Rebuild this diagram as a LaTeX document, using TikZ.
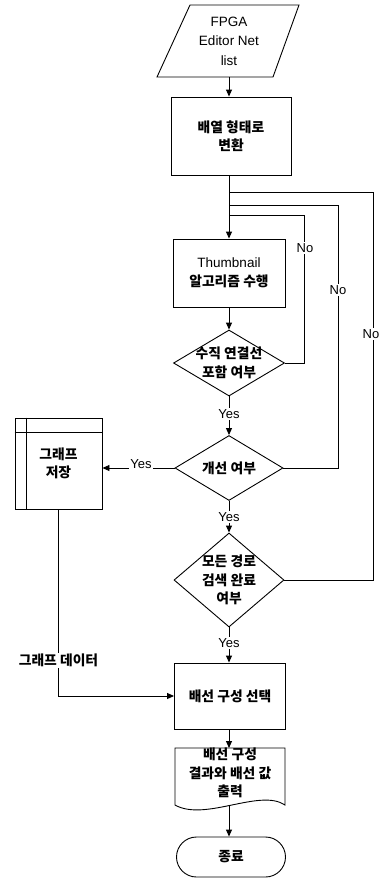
\documentclass[tikz,border=0pt]{standalone}
\usepackage{fontspec}
\setmainfont{Liberation Sans}
\newfontfamily\kr{Noto Sans CJK KR}
\usetikzlibrary{arrows.meta,shapes.geometric,calc}
\tikzset{
  every path/.style={line width=0.9pt},
  box/.style={draw, rectangle, inner sep=0pt, align=center},
  ghost/.style={rectangle, inner sep=0pt, align=center},
  dia/.style={draw, diamond, inner sep=0pt},
  krt/.style={font=\kr\bfseries\fontsize{13.8}{18.5}\selectfont},
  ent/.style={font=\fontsize{13.5}{19.5}\selectfont},
  lbl/.style={fill=white, inner sep=1pt, font=\fontsize{13}{15}\selectfont},
  krlbl/.style={fill=white, inner sep=1pt, font=\kr\bfseries\fontsize{13.8}{15}\selectfont},
  arr/.style={-{Triangle[length=7pt,width=6pt]}}
}
\begin{document}
\begin{tikzpicture}[x=1pt,y=-1pt]
\useasboundingbox (0,0) rectangle (381,879);
% input parallelogram
\node[ghost, ent, minimum width=118pt, minimum height=72pt] (in) at (229,41) {FPGA\\Editor Net\\list};
\draw (190,5) -- (299,5) -- (273,77) -- (157,77) -- cycle;
% steps
\node[box, krt, minimum width=120pt, minimum height=78pt] (conv) at (231,136) {배열 형태로\\변환};
\node[box, ent, minimum width=112pt, minimum height=68pt] (thumb) at (229,273) {Thumbnail\\{\kr\bfseries\fontsize{13.8}{18.5}\selectfont 알고리즘 수행}};
\node[dia, minimum width=111pt, minimum height=66pt, label={[krt, align=center]center:수직 연결선\\포함 여부}] (d1) at (229,363) {};
\node[dia, minimum width=108pt, minimum height=65pt, label={[krt, align=center]center:개선 여부}] (d2) at (229,468) {};
\node[dia, minimum width=110pt, minimum height=94pt, label={[krt, align=center]center:모든 경로\\검색 완료\\여부}] (d3) at (229,580) {};
\node[box, krt, minimum width=111pt, minimum height=66pt] (sel) at (230,696) {배선 구성 선택};
% document shape
\node[ghost, krt, minimum width=110pt, minimum height=57pt] (doc) at (230,773) {배선 구성\\결과와 배선 값\\출력};
\draw (175,748) -- (285,748) -- (285,805) .. controls (260,788) and (205,822) .. (175,805) -- cycle;
% terminator
\node[draw, rectangle, rounded corners=20pt, krt, minimum width=109pt, minimum height=40pt, inner sep=0pt] (term) at (231,857) {종료};
% internal storage
\node[box, krt, minimum width=87pt, minimum height=91pt] (store) at (58.5,463.5) {그래프\\저장};
\draw ([xshift=12pt]store.north west) -- ([xshift=12pt]store.south west);
\draw ([yshift=-15pt]store.north west) -- ([yshift=-15pt]store.north east);
% junction coordinates
\coordinate (j3) at (229,192);
\coordinate (j2) at (229,205);
\coordinate (j1) at (229,215);
\coordinate (r3) at (373,192);
\coordinate (r2) at (338,205);
\coordinate (r1) at (304,215);
\coordinate (dbot) at (229,805);
% main flow
\draw[arr] (in.south) -- (in.south |- conv.north);
\draw[arr] (conv.south -| in.south) -- (thumb.north);
\draw[arr] (thumb.south) -- (d1.north);
\draw[arr] (d1.south) -- (d2.north);
\draw[arr] (d2.south) -- (d3.north);
\draw[arr] (d3.south) -- (d3.south |- sel.north);
\draw[arr] (sel.south -| d3.south) -- (d3.south |- 0,748);
\draw[arr] (dbot) -- (term.north -| dbot);
% No loops
\draw (d1.east) -- (d1.east -| r1) -- (r1) -- (j1);
\draw (d2.east) -- (d2.east -| r2) -- (r2) -- (j2);
\draw (d3.east) -- (d3.east -| r3) -- (r3) -- (j3);
\node[lbl] at (305,248) {No};
\node[lbl] at (338,290) {No};
\node[lbl] at (371,334) {No};
% Yes labels
\node[lbl] at (229,414) {Yes};
\node[lbl] at (229,517) {Yes};
\node[lbl] at (229,643) {Yes};
\draw[arr] (d2.west) -- (d2.west -| store.east);
\node[lbl] at (141,464) {Yes};
% graph data
\draw[arr] (store.south) |- (sel.west);
\node[krlbl] at (58.5,660) {그래프 데이터};
\end{tikzpicture}
\end{document}
